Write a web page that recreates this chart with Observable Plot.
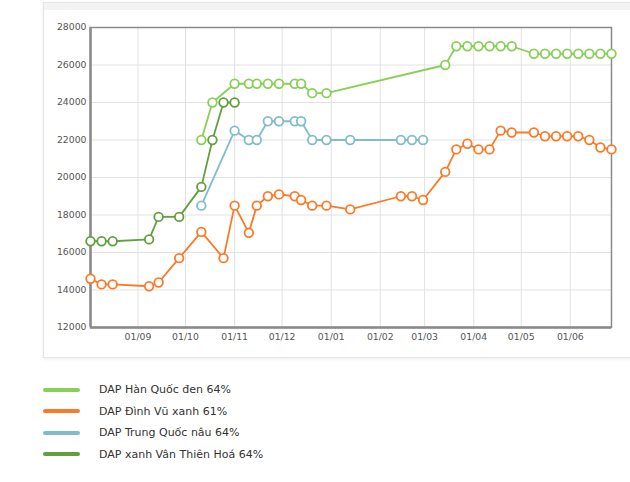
<!DOCTYPE html>
<html><head><meta charset="utf-8">
<script src="https://cdn.jsdelivr.net/npm/d3@7"></script>
<script src="https://cdn.jsdelivr.net/npm/@observablehq/plot@0.6"></script>
<style>
body{margin:0;background:#fff;font-family:"DejaVu Sans",Verdana,sans-serif;}
#wrap{position:relative;width:630px;height:482px;overflow:hidden;}
#panel{position:absolute;left:43px;top:2px;width:640px;height:354px;border:1px solid #e4e4e4;background:#fff;box-shadow:0 1px 3px rgba(0,0,0,0.08);}
#panel .band{position:absolute;left:0;top:0;right:0;height:7px;background:#f3f3f3;}
#chart{position:absolute;left:0;top:0;}
#legend{position:absolute;left:43px;top:379px;font-size:11px;color:#333;}
.row{display:flex;align-items:center;height:21.5px;}
.sw{width:37px;height:4px;border-radius:2px;margin-right:19px;}
</style></head>
<body><div id="wrap"><div id="panel"><div class="band"></div></div><div id="chart"></div><div id="legend"></div></div>
<script>
const seriesNames = ["DAP Hàn Quốc đen 64%","DAP Đình Vũ xanh 61%","DAP Trung Quốc nâu 64%","DAP xanh Vân Thiên Hoá 64%"];
const seriesColors = ["#88cf57","#fa7a28","#80bccb","#62a03e"];

const hanQuocDates = ["2021-10-11","2021-10-18","2021-11-01","2021-11-10","2021-11-15","2021-11-22","2021-11-29","2021-12-09","2021-12-13","2021-12-20","2021-12-29","2022-03-14","2022-03-21","2022-03-28","2022-04-04","2022-04-11","2022-04-18","2022-04-25","2022-05-09","2022-05-16","2022-05-23","2022-05-30","2022-06-06","2022-06-13","2022-06-20","2022-06-27"];
const hanQuocValues = [22000,24000,25000,25000,25000,25000,25000,25000,25000,24500,24500,26000,27000,27000,27000,27000,27000,27000,26600,26600,26600,26600,26600,26600,26600,26600];

const dinhVuDates = ["2021-08-02","2021-08-09","2021-08-16","2021-09-08","2021-09-14","2021-09-27","2021-10-11","2021-10-25","2021-11-01","2021-11-10","2021-11-15","2021-11-22","2021-11-29","2021-12-09","2021-12-13","2021-12-20","2021-12-29","2022-01-13","2022-02-14","2022-02-21","2022-02-28","2022-03-14","2022-03-21","2022-03-28","2022-04-04","2022-04-11","2022-04-18","2022-04-25","2022-05-09","2022-05-16","2022-05-23","2022-05-30","2022-06-06","2022-06-13","2022-06-20","2022-06-27"];
const dinhVuValues = [14600,14300,14300,14200,14400,15700,17100,15700,18500,17050,18500,19000,19100,19000,18800,18500,18500,18300,19000,19000,18800,20300,21500,21800,21500,21500,22500,22400,22400,22200,22200,22200,22200,22000,21600,21500];

const trungQuocDates = ["2021-10-11","2021-11-01","2021-11-10","2021-11-15","2021-11-22","2021-11-29","2021-12-09","2021-12-13","2021-12-20","2021-12-29","2022-01-13","2022-02-14","2022-02-21","2022-02-28"];
const trungQuocValues = [18500,22500,22000,22000,23000,23000,23000,23000,22000,22000,22000,22000,22000,22000];

const vanThienDates = ["2021-08-02","2021-08-09","2021-08-16","2021-09-08","2021-09-14","2021-09-27","2021-10-11","2021-10-18","2021-10-25","2021-11-01"];
const vanThienValues = [16600,16600,16600,16700,17900,17900,19500,22000,24000,24000];

const yTicks = [12000,14000,16000,18000,20000,22000,24000,26000,28000];
const xTickDates = ["2021-09-01","2021-10-01","2021-11-01","2021-12-01","2022-01-01","2022-02-01","2022-03-01","2022-04-01","2022-05-01","2022-06-01"];
const xDomain = ["2021-08-02","2022-06-27"];

const allSeries = [
  [hanQuocDates, hanQuocValues],
  [dinhVuDates, dinhVuValues],
  [trungQuocDates, trungQuocValues],
  [vanThienDates, vanThienValues]
];
const data = allSeries.flatMap(([ds, vs], i) => ds.map((d, j) => ({date: new Date(d), value: vs[j], s: seriesNames[i]})));

const colorScale = {domain: seriesNames, range: seriesColors};
const xTicks = xTickDates.map(d => new Date(d));

const chart = Plot.plot({
  width: 630, height: 357,
  marginLeft: 90, marginRight: 19, marginTop: 27, marginBottom: 30,
  style: {fontFamily: "DejaVu Sans, Verdana, sans-serif", fontSize: "9.3px", color: "#555", background: "transparent"},
  x: {type: "utc", domain: xDomain.map(d => new Date(d)), label: null},
  y: {domain: [12000, 28000], label: null},
  color: colorScale,
  marks: [
    Plot.gridX(xTicks, {stroke: "#e2e2e2", strokeOpacity: 1}),
    Plot.gridY(yTicks, {stroke: "#e2e2e2", strokeOpacity: 1}),
    Plot.frame({stroke: "#8a8a8a", strokeWidth: 1.5}),
    Plot.ruleX([new Date(xDomain[0])], {stroke: "#8a8a8a", strokeWidth: 2.5}),
    Plot.ruleY([12000], {stroke: "#8a8a8a", strokeWidth: 2.5}),
    Plot.axisX({ticks: xTicks, tickFormat: d3.utcFormat("%d/%m"), tickSize: 0, tickPadding: 6, fill: "#555"}),
    Plot.axisY({ticks: yTicks, tickFormat: d => String(d), tickSize: 0, tickPadding: 4, fill: "#555"}),
    Plot.line(data, {x: "date", y: "value", z: "s", stroke: "s", strokeWidth: 1.8}),
    Plot.dot(data, {x: "date", y: "value", stroke: "s", fill: "white", r: 4.3, strokeWidth: 1.8})
  ]
});
document.getElementById("chart").appendChild(chart);

const legend = document.getElementById("legend");
seriesNames.forEach((n, i) => {
  const row = document.createElement("div"); row.className = "row";
  const sw = document.createElement("div"); sw.className = "sw"; sw.style.background = seriesColors[i];
  const t = document.createElement("span"); t.textContent = n;
  row.appendChild(sw); row.appendChild(t); legend.appendChild(row);
});
</script></body></html>
